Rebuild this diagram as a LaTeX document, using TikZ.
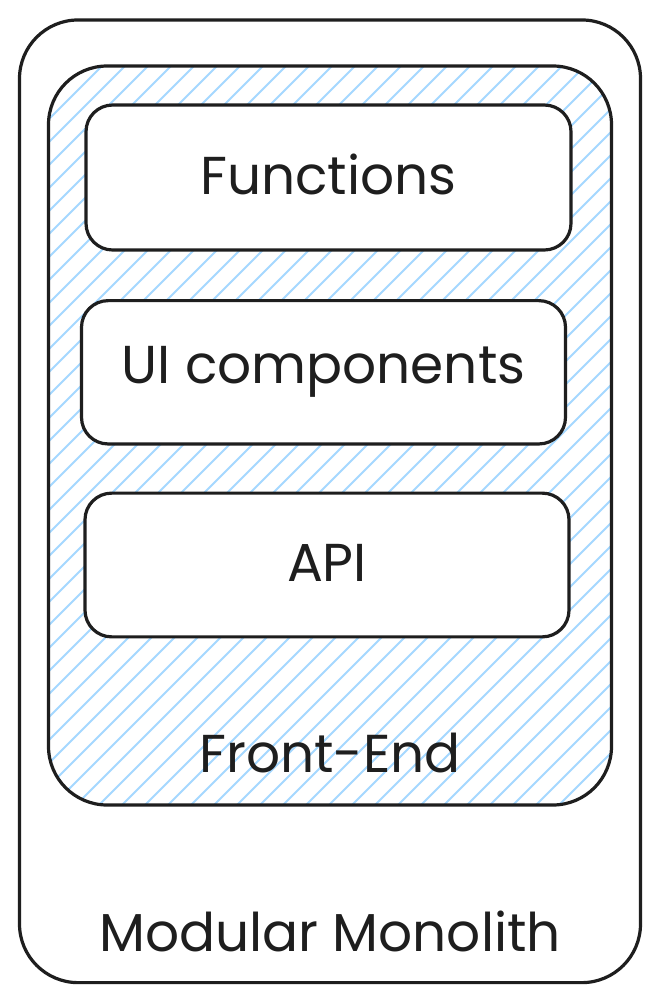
\documentclass[tikz,border=0pt]{standalone}
\usepackage{fontspec}
\setmainfont{Poppins}
\definecolor{ink}{HTML}{1E1E1E}
\definecolor{hatch}{HTML}{A5D8FF}
\begin{document}
\begin{tikzpicture}[x=0.75pt,y=-0.75pt,
  frame/.style={draw=ink,line width=2.4pt,rounded corners=#1},
  box/.style={draw=ink,fill=white,line width=2.4pt,rounded corners=20pt,
    minimum width=363pt,minimum height=108pt,inner sep=0pt,
    font=\fontsize{40}{46}\selectfont,text=ink},
  lbl/.style={font=\fontsize{40}{46}\selectfont,text=ink,inner sep=0pt}]
\useasboundingbox (0,0) rectangle (661,1003);
\fill[white] (0,0) rectangle (661,1003);
% outer frame
\node[frame=44pt,minimum width=465.75pt,minimum height=722pt,inner sep=0pt] (outer) at (330,501.3) {};
% container hatch
\begin{scope}
  \clip[rounded corners=44pt] (48.5,66) rectangle (611.7,805);
  \foreach \c in {0,23,...,1500} {
    \draw[hatch,line width=1.5pt] (\c+7,0) -- (\c+7-1100,1100);
  }
\end{scope}
\node[frame=44pt,minimum width=422.25pt,minimum height=554.25pt,inner sep=0pt] (front) at (330,435.5) {};
% boxes
\node[box,minimum width=363.75pt,minimum height=108.75pt] (functions) at (328.5,177.5) {\raisebox{5pt}{Functions}};
\node[box,minimum height=107.5pt] (ui) at (323.5,372.3) {UI components};
\node[box,minimum height=107.8pt] (api) at (327,565) {\raisebox{3pt}{API}};
% labels
\node[lbl] (frontlbl) at (330,753) {Front-End};
\node[lbl] (outerlbl) at (330,931) {Modular Monolith};
\end{tikzpicture}
\end{document}
